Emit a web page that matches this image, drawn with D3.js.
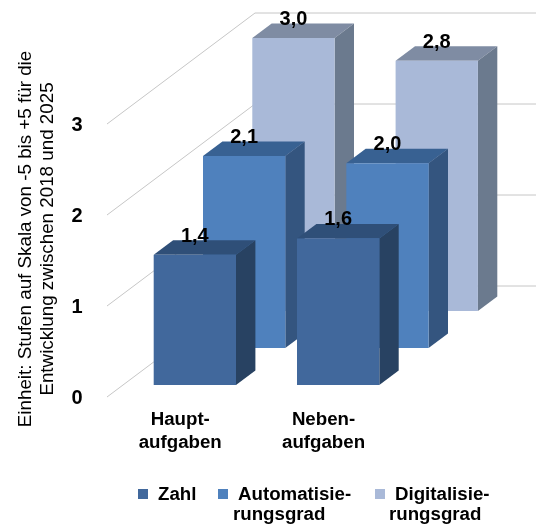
<!DOCTYPE html>
<html><head><meta charset="utf-8">
<script src="https://cdnjs.cloudflare.com/ajax/libs/d3/7.8.5/d3.min.js"></script>
<style>html,body{margin:0;padding:0;background:#fff}svg{display:block;filter:blur(.35px)}text{font-family:"Liberation Sans",Arial,sans-serif;fill:#000}</style>
</head><body><svg id="c" width="536" height="524"></svg>
<script>
const categories=[["Haupt-","aufgaben"],["Neben-","aufgaben"]];
const seriesNames=["Zahl","Automatisierungsgrad","Digitalisierungsgrad"];
const zahl=[1.43,1.61];
const automatisierung=[2.11,2.03];
const digitalisierung=[3.0,2.75];
const ticks=[0,1,2,3];
const legendLines=[["Zahl"],["Automatisie-","rungsgrad"],["Digitalisie-","rungsgrad"]];
const seriesValues=[zahl,automatisierung,digitalisierung];
const faceColors=["#41689c","#4f81bd","#a9b9d8"];
const topColors=["#2f4f78","#386192","#7f8ca3"];
const sideColors=["#284262","#34557f","#6b7a8e"];

const svg=d3.select("#c");
const catIdx=categories.map((d,i)=>i);
const x=d3.scaleBand().domain(catIdx).range([153.7,379.3]).paddingInner(.4257);
const h=d3.scaleLinear().domain([0,3]).range([0,273]);
const depthX=d3.scalePoint().domain([0,1,2]).range([0,98.6]);
const depthY=d3.scalePoint().domain([0,1,2]).range([0,74]);
const yAxis=d3.scaleLinear().domain([0,3]).range([397,124]);
const baseY=385, barDX=19.4, barDY=14.5, wallDX=148, wallDY=111, leftX=107;

svg.append("g").selectAll("path").data(ticks).join("path")
 .attr("d",t=>d3.line()([[leftX,yAxis(t)],[leftX+wallDX,yAxis(t)-wallDY],[536,yAxis(t)-wallDY]]))
 .attr("fill","none").attr("stroke","#c6c6c6").attr("stroke-width",1);

const bars=[];
[2,1,0].forEach(s=>catIdx.forEach(c=>bars.push({s,c,v:seriesValues[s][c]})));
const g=svg.append("g");
bars.forEach(b=>{
 const xl=x(b.c)+depthX(b.s), w=x.bandwidth(), yb=baseY-depthY(b.s), yt=yb-h(b.v);
 const poly=(pts,fill)=>g.append("path").attr("d",d3.line()(pts)+"Z").attr("fill",fill);
 poly([[xl,yt],[xl+w,yt],[xl+w+barDX,yt-barDY],[xl+barDX,yt-barDY]],topColors[b.s]);
 poly([[xl+w,yt],[xl+w+barDX,yt-barDY],[xl+w+barDX,yb-barDY],[xl+w,yb]],sideColors[b.s]);
 g.append("rect").attr("x",xl).attr("y",yt).attr("width",w).attr("height",h(b.v)).attr("fill",faceColors[b.s]);
});
const fmt=v=>v.toFixed(1).replace(".",",");
svg.append("g").selectAll("text").data(bars).join("text")
 .attr("x",b=>x(b.c)+depthX(b.s)+x.bandwidth()/2)
 .attr("y",b=>baseY-depthY(b.s)-h(b.v)-13)
 .attr("text-anchor","middle").attr("font-weight","bold").attr("font-size",20).text(b=>fmt(b.v));

const ax=svg.append("g").attr("transform","translate(82.6,0)")
 .call(d3.axisLeft(yAxis).tickValues(ticks).tickSize(0).tickPadding(0).tickFormat(d3.format("d")));
ax.select(".domain").remove();
ax.selectAll("text").attr("font-size",20).attr("font-weight","bold").attr("font-family","'Liberation Sans',Arial,sans-serif").attr("fill","#000");

const title=svg.append("text").attr("transform","translate(30.7,239) rotate(-90)").attr("text-anchor","middle").attr("font-size",18.8);
title.append("tspan").attr("x",0).attr("y",0).text("Einheit: Stufen auf Skala von -5 bis +5 für die");
title.append("tspan").attr("x",0).attr("y",22).text("Entwicklung zwischen 2018 und 2025");

const catText=svg.append("g").selectAll("text").data(categories).join("text")
 .attr("text-anchor","middle").attr("font-weight","bold").attr("font-size",18.7)
 .attr("transform",(d,i)=>`translate(${x(i)+x.bandwidth()/2-14.6},0)`);
catText.append("tspan").attr("x",0).attr("y",425).text(d=>d[0]);
catText.append("tspan").attr("x",0).attr("y",448).text(d=>d[1]);

const legendSwatchX=[138,218,375], legendL1=[158,238,395], legendL2=[158,233,389];
const leg=svg.append("g");
legendLines.forEach((lines,i)=>{
 leg.append("rect").attr("x",legendSwatchX[i]).attr("y",489).attr("width",10).attr("height",10).attr("fill",faceColors[i]);
 lines.forEach((t,j)=>leg.append("text").attr("x",j?legendL2[i]:legendL1[i]).attr("y",500+20*j)
  .attr("font-weight","bold").attr("font-size",18.7).text(t));
});
</script></body></html>
